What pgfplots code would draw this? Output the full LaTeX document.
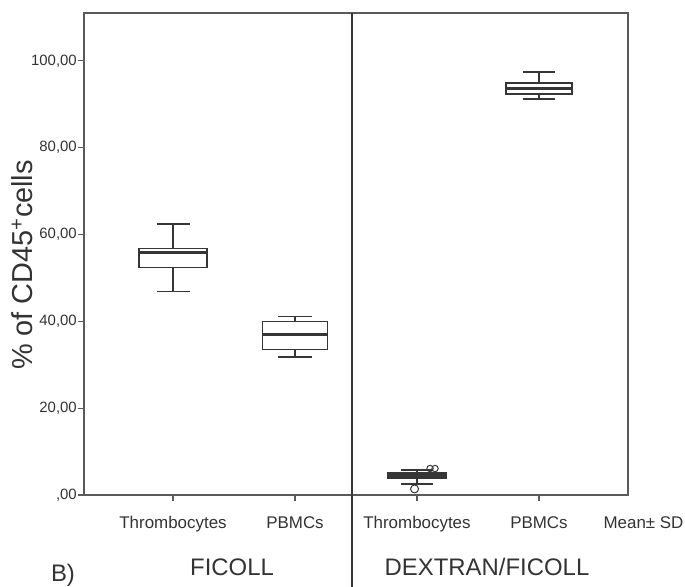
\documentclass[border=0pt]{standalone}
\usepackage{pgfplots}
\pgfplotsset{compat=1.18}
\usepgfplotslibrary{statistics}
\usepackage{fontspec}
\setmainfont{Liberation Sans}
\definecolor{ln}{HTML}{363636}
\definecolor{ax}{HTML}{5A5A5A}
\definecolor{tx}{HTML}{333333}
\begin{document}
\begin{tikzpicture}
\path[use as bounding box] (-84bp,-92bp) rectangle (601bp,495bp);
\begin{axis}[
  scale only axis, width=544bp, height=482bp,
  xmin=0.27, xmax=4.73, ymin=0, ymax=111,
  clip=false,
  boxplot/draw direction=y,
  axis line style={ax, line width=1.3pt},
  xtick={1,2,3,4},
  xticklabels={Thrombocytes,PBMCs,Thrombocytes,PBMCs},
  ytick={0,20,40,60,80,100},
  yticklabels={{,00},{20,00},{40,00},{60,00},{80,00},{100,00}},
  tick pos=left, tick align=outside,
  major tick length=6bp,
  tick style={ax, line width=1.2pt},
  x tick label style={font=\fontsize{17}{20}\selectfont, text=tx, inner sep=0pt, anchor=north, yshift=-15bp},
  y tick label style={font=\fontsize{15}{18}\selectfont, text=tx, inner sep=0pt, xshift=-1bp},
  ylabel={\% of CD45\textsuperscript{+}cells},
  ylabel style={font=\fontsize{29}{34}\selectfont, text=tx, at={(axis description cs:-0.114,0.477)}, anchor=center},
]
% FICOLL Thrombocytes
\addplot[ln, line width=1.5pt, boxplot/every median/.style={line width=3pt},
  boxplot prepared={draw position=1, median=55.8, upper quartile=56.8, lower quartile=52.4,
  upper whisker=62.4, lower whisker=46.9, box extend=0.56, whisker extend=0.27}] coordinates {};
% FICOLL PBMCs
\addplot[ln, line width=1.5pt, boxplot/every median/.style={line width=3pt},
  boxplot prepared={draw position=2, median=36.9, upper quartile=39.9, lower quartile=33.5,
  upper whisker=41.1, lower whisker=31.8, box extend=0.53, whisker extend=0.28}] coordinates {};
% DEXTRAN/FICOLL Thrombocytes
\addplot[ln, line width=1.5pt, fill=ln, boxplot/every median/.style={line width=3pt},
  boxplot prepared={draw position=3, median=4.3, upper quartile=5.2, lower quartile=3.8,
  upper whisker=5.8, lower whisker=2.5, box extend=0.48, whisker extend=0.26}] coordinates {};
\addplot[only marks, mark=o, mark size=3.2bp, ln, line width=1pt, mark options={fill=white}]
  coordinates {(3.107,6.1) (3.148,6.1)};
\addplot[only marks, mark=o, mark size=4bp, ln, line width=1pt, mark options={fill=white}]
  coordinates {(2.98,1.4)};
% DEXTRAN/FICOLL PBMCs
\addplot[ln, line width=1.5pt, boxplot/every median/.style={line width=3pt},
  boxplot prepared={draw position=4, median=93.7, upper quartile=94.9, lower quartile=92.4,
  upper whisker=97.4, lower whisker=91.2, box extend=0.54, whisker extend=0.26}] coordinates {};
\end{axis}
\draw[ln, line width=1.3pt] (268bp,482bp) -- (268bp,-92bp);
\node[font=\fontsize{17}{20}\selectfont, text=tx, inner sep=0pt, anchor=north] at (559.5bp,-21bp) {Mean± SD};
\node[font=\fontsize{24}{28}\selectfont, text=tx] at (148bp,-72bp) {FICOLL};
\node[font=\fontsize{24}{28}\selectfont, text=tx] at (403bp,-72bp) {DEXTRAN/FICOLL};
\node[font=\fontsize{24}{28}\selectfont, text=tx] at (-21bp,-80bp) {B)};
\end{tikzpicture}
\end{document}
